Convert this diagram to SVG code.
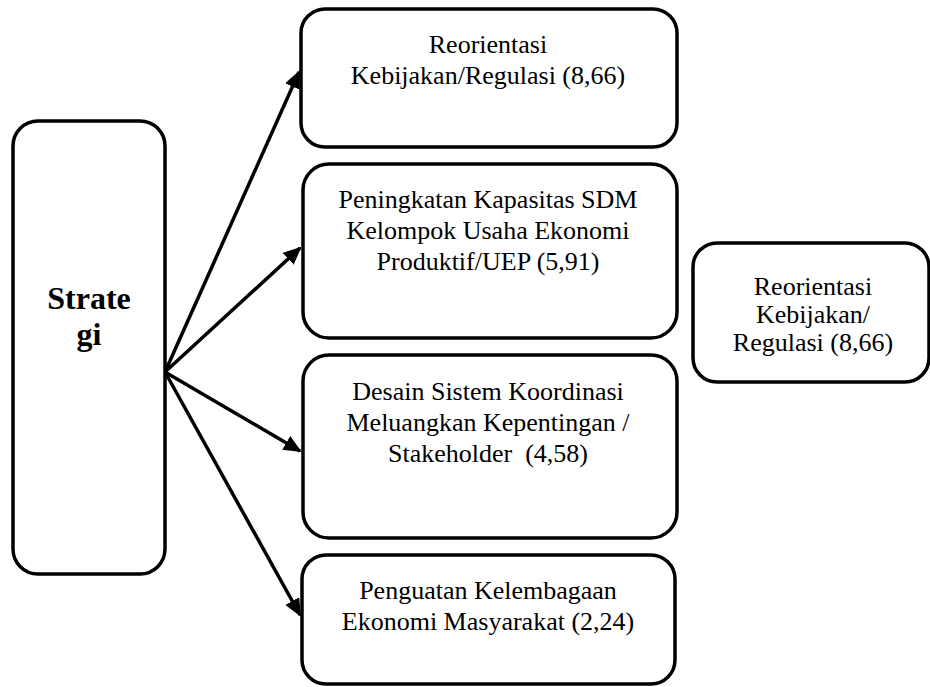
<svg xmlns="http://www.w3.org/2000/svg" width="930" height="687" viewBox="0 0 930 687">
<defs>
<style>
.box{fill:#fff;stroke:#000;stroke-width:3.5}
.t{font-family:'Liberation Serif','Times New Roman','DejaVu Serif',serif;font-size:26px;fill:#000;text-anchor:middle}
.b{font-family:'Liberation Serif','Times New Roman','DejaVu Serif',serif;font-size:32px;font-weight:bold;fill:#000;text-anchor:middle}
.c{stroke:#000;stroke-width:3.5;fill:none}
</style>
<marker id="ah" markerUnits="userSpaceOnUse" viewBox="0 0 18 16" refX="16" refY="8" markerWidth="18" markerHeight="16" orient="auto">
<path d="M0,0 L18,8 L0,16 Z" fill="#000"/>
</marker>
</defs>
<rect width="930" height="687" fill="#fff"/>
<g id="connectors">
<line class="c" x1="165" y1="372" x2="299" y2="72" marker-end="url(#ah)"/>
<line class="c" x1="165" y1="372" x2="300" y2="248" marker-end="url(#ah)"/>
<line class="c" x1="165" y1="372" x2="300" y2="451" marker-end="url(#ah)"/>
<line class="c" x1="165" y1="372" x2="300" y2="615" marker-end="url(#ah)"/>
</g>
<g id="strategi">
<rect class="box" x="13" y="121" width="152" height="453" rx="25"/>
<text class="b" x="89" y="309">Strate</text>
<text class="b" x="89" y="345">gi</text>
</g>
<g id="reorientasi">
<rect class="box" x="301" y="9" width="376" height="138" rx="24"/>
<text class="t" x="488" y="53">Reorientasi</text>
<text class="t" x="488" y="84">Kebijakan/Regulasi (8,66)</text>
</g>
<g id="peningkatan">
<rect class="box" x="303" y="164" width="374" height="174" rx="26"/>
<text class="t" x="488" y="208">Peningkatan Kapasitas SDM</text>
<text class="t" x="488" y="239">Kelompok Usaha Ekonomi</text>
<text class="t" x="488" y="270">Produktif/UEP (5,91)</text>
</g>
<g id="desain">
<rect class="box" x="303" y="355" width="374" height="183" rx="26"/>
<text class="t" x="488" y="400">Desain Sistem Koordinasi</text>
<text class="t" x="488" y="431">Meluangkan Kepentingan /</text>
<text class="t" x="488" y="462" xml:space="preserve">Stakeholder  (4,58)</text>
</g>
<g id="penguatan">
<rect class="box" x="302" y="555" width="373" height="129" rx="24"/>
<text class="t" x="488" y="599">Penguatan Kelembagaan</text>
<text class="t" x="488" y="630">Ekonomi Masyarakat (2,24)</text>
</g>
<g id="reorientasi2">
<rect class="box" x="693" y="243" width="236" height="139" rx="24"/>
<text class="t" x="813" y="295">Reorientasi</text>
<text class="t" x="813" y="323">Kebijakan/</text>
<text class="t" x="813" y="351">Regulasi (8,66)</text>
</g>
</svg>
